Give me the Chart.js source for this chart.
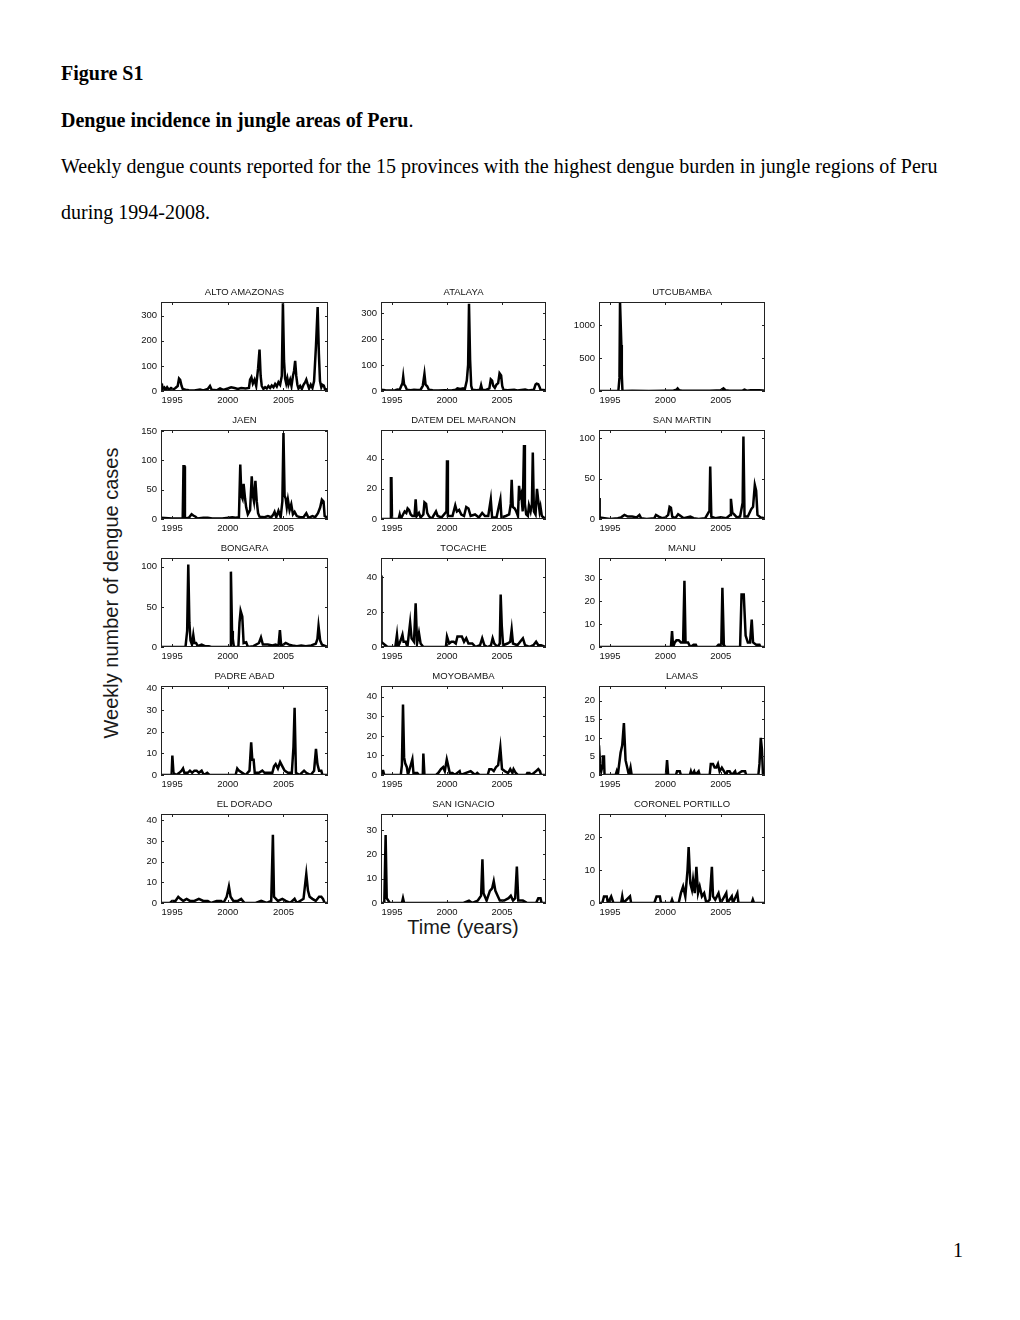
<!DOCTYPE html>
<html lang="en">
<head>
<meta charset="UTF-8">
<title>Figure S1</title>
<script src="https://cdn.jsdelivr.net/npm/chart.js"></script>
<style>
  body { margin: 0; width: 1020px; height: 1320px; background: #fff; position: relative;
         font-family: "Liberation Serif", "Times New Roman", serif; color: #000; }
  .line { position: absolute; left: 61px; font-size: 20px; line-height: 20px; white-space: nowrap; }
  .panel { position: absolute; }
  .ptitle { position: absolute; font-family: "Liberation Sans", Arial, sans-serif; font-size: 9.5px;
            line-height: 10px; white-space: nowrap; color: #111; transform: translate(-50%, -50%); }
  #ylab, #xlab { position: absolute; font-family: "Liberation Sans", Arial, sans-serif;
                 font-size: 20px; line-height: 20px; white-space: nowrap; color: #1a1a1a; }
  #ylab { left: 111px; top: 593px; transform: translate(-50%, -50%) rotate(-90deg); }
  #xlab { left: 463px; top: 927px; transform: translate(-50%, -50%); }
</style>
</head>
<body>
<div class="line" style="top:63px"><b>Figure S1</b></div>
<div class="line" style="top:110px"><b>Dengue incidence in jungle areas of Peru</b>.</div>
<div class="line" style="top:156px">Weekly dengue counts reported for the 15 provinces with the highest dengue burden in jungle regions of Peru</div>
<div class="line" style="top:202px">during 1994-2008.</div>
<div class="line" style="top:1240px;left:953px">1</div>
<div id="ylab">Weekly number of dengue cases</div>
<div id="xlab">Time (years)</div>

<script>
// weekly case counts, as [year, cases]
const altoAmazonas = [[1994.0,30],[1994.08,28],[1994.15,8],[1994.3,14],[1994.4,4],[1994.55,15],[1994.7,5],[1994.9,12],[1995.1,6],[1995.3,12],[1995.5,20],[1995.62,50],[1995.72,45],[1995.85,20],[1995.95,8],[1996.2,5],[1996.5,3],[1997.0,2],[1997.5,6],[1997.8,2],[1998.2,8],[1998.4,20],[1998.55,5],[1999.0,3],[1999.3,10],[1999.6,4],[2000.0,10],[2000.3,15],[2000.6,12],[2000.9,8],[2001.2,12],[2001.6,10],[2001.9,12],[2002.0,45],[2002.12,55],[2002.25,30],[2002.4,45],[2002.55,20],[2002.72,90],[2002.85,165],[2002.95,60],[2003.05,20],[2003.2,8],[2003.35,15],[2003.5,10],[2003.65,20],[2003.8,12],[2003.95,22],[2004.1,15],[2004.25,28],[2004.4,18],[2004.55,35],[2004.7,25],[2004.85,60],[2004.95,350],[2005.05,120],[2005.15,50],[2005.25,30],[2005.35,50],[2005.45,25],[2005.6,45],[2005.72,20],[2005.85,60],[2005.95,80],[2006.05,120],[2006.15,60],[2006.25,25],[2006.35,10],[2006.5,20],[2006.65,8],[2006.8,25],[2006.95,35],[2007.05,45],[2007.15,30],[2007.3,10],[2007.45,25],[2007.6,12],[2007.75,40],[2007.92,180],[2008.07,335],[2008.18,150],[2008.28,40],[2008.4,15],[2008.5,25],[2008.62,22],[2008.72,8],[2008.95,5]];
const atalaya = [[1994.0,5],[1994.4,3],[1994.9,2],[1995.3,3],[1995.5,6],[1995.7,5],[1995.85,20],[1995.95,30],[1996.02,55],[1996.1,25],[1996.2,20],[1996.35,5],[1996.7,3],[1997.0,5],[1997.3,4],[1997.6,5],[1997.8,20],[1997.95,65],[1998.05,25],[1998.2,18],[1998.35,5],[1998.7,3],[1999.2,2],[1999.8,3],[2000.4,2],[2000.8,5],[2000.95,10],[2001.2,8],[2001.45,10],[2001.6,3],[2001.8,40],[2001.92,100],[2002.0,335],[2002.1,120],[2002.2,20],[2002.3,5],[2002.7,3],[2003.0,5],[2003.1,22],[2003.2,5],[2003.5,3],[2003.85,10],[2003.98,45],[2004.1,40],[2004.2,20],[2004.35,12],[2004.5,25],[2004.65,30],[2004.78,68],[2004.92,60],[2005.02,20],[2005.12,5],[2005.5,3],[2006.1,5],[2006.4,2],[2007.1,6],[2007.4,2],[2007.9,5],[2008.05,25],[2008.15,28],[2008.3,26],[2008.42,15],[2008.5,5],[2008.97,3]];
const utcubamba = [[1994.0,0],[1995.75,0],[1995.85,200],[1995.9,1357],[1995.98,1357],[1996.02,700],[1996.06,250],[1996.12,0],[1997.0,2],[1998.5,0],[2000.0,3],[2000.7,5],[2001.0,20],[2001.1,40],[2001.25,10],[2001.5,5],[2002.5,3],[2003.3,5],[2004.0,3],[2004.6,8],[2005.0,10],[2005.25,40],[2005.45,10],[2005.8,5],[2006.5,3],[2007.0,8],[2007.15,20],[2007.35,5],[2007.7,10],[2008.1,12],[2008.5,10],[2008.8,8],[2008.97,3]];
const jaen = [[1994.0,2],[1995.0,1],[1995.95,1],[1996.02,90],[1996.1,90],[1996.15,1],[1996.5,2],[1996.75,8],[1996.9,6],[1997.1,4],[1997.25,1],[1997.8,2],[1998.2,2],[1998.6,1],[1999.5,1],[2000.4,3],[2000.7,2],[2001.0,3],[2001.12,93],[2001.22,40],[2001.32,35],[2001.42,60],[2001.55,35],[2001.65,20],[2001.8,8],[2002.0,15],[2002.15,73],[2002.25,40],[2002.35,30],[2002.48,65],[2002.6,30],[2002.72,10],[2002.85,4],[2003.3,3],[2003.6,5],[2003.9,3],[2004.1,8],[2004.2,12],[2004.35,3],[2004.55,14],[2004.75,3],[2004.9,30],[2005.0,147],[2005.1,40],[2005.2,35],[2005.3,20],[2005.4,33],[2005.55,15],[2005.7,25],[2005.85,8],[2006.0,12],[2006.2,5],[2006.5,3],[2006.8,3],[2007.05,10],[2007.25,2],[2007.6,5],[2007.85,3],[2008.1,10],[2008.3,20],[2008.45,33],[2008.6,30],[2008.7,5],[2008.97,2]];
const datemDelMaranon = [[1994.0,0],[1994.85,0],[1994.9,27],[1994.95,27],[1995.0,0],[1995.6,0],[1995.7,3],[1995.8,0],[1996.0,3],[1996.15,5],[1996.3,4],[1996.42,7],[1996.55,6],[1996.7,3],[1996.85,2],[1997.05,2],[1997.15,13],[1997.25,2],[1997.45,4],[1997.6,1],[1997.85,3],[1997.95,11],[1998.1,10],[1998.2,4],[1998.35,2],[1998.6,0],[1999.0,5],[1999.15,2],[1999.5,1],[1999.95,5],[2000.0,39],[2000.08,2],[2000.5,2],[2000.75,9],[2000.9,5],[2001.1,6],[2001.3,3],[2001.55,2],[2001.75,8],[2001.95,7],[2002.15,2],[2002.55,3],[2002.9,1],[2003.2,4],[2003.45,2],[2003.75,2],[2003.98,13],[2004.1,1],[2004.5,1],[2004.85,13],[2004.95,1],[2005.35,2],[2005.65,3],[2005.8,10],[2005.88,26],[2005.98,8],[2006.15,7],[2006.3,5],[2006.45,2],[2006.55,22],[2006.65,15],[2006.75,17],[2006.88,5],[2007.0,49],[2007.08,10],[2007.2,3],[2007.35,2],[2007.45,9],[2007.6,5],[2007.72,10],[2007.8,44],[2007.9,5],[2008.05,3],[2008.18,20],[2008.3,12],[2008.42,5],[2008.5,8],[2008.62,2],[2008.97,0]];
const sanMartin = [[1994.0,26],[1994.06,2],[1994.5,1],[1995.0,0],[1995.7,1],[1996.0,2],[1996.3,5],[1996.6,3],[1997.0,3],[1997.4,2],[1997.65,5],[1997.8,1],[1998.3,0],[1999.0,1],[1999.15,5],[1999.4,3],[1999.7,1],[2000.0,2],[2000.25,5],[2000.38,15],[2000.5,14],[2000.62,3],[2000.9,1],[2001.15,6],[2001.35,4],[2001.65,1],[2002.25,3],[2002.55,1],[2003.0,0],[2003.6,1],[2003.98,10],[2004.05,65],[2004.15,3],[2004.5,1],[2005.0,2],[2005.5,1],[2005.85,5],[2005.92,25],[2006.05,8],[2006.25,5],[2006.45,2],[2006.75,3],[2006.98,20],[2007.05,102],[2007.15,3],[2007.45,3],[2007.75,12],[2007.92,15],[2008.08,42],[2008.2,35],[2008.32,5],[2008.6,2],[2008.97,1]];
const bongara = [[1994.0,0],[1996.2,0],[1996.35,20],[1996.45,103],[1996.55,30],[1996.65,8],[1996.78,3],[1996.9,15],[1997.0,5],[1997.15,5],[1997.3,1],[1997.65,3],[1997.95,1],[1998.3,1],[1998.5,0],[2000.2,0],[2000.28,94],[2000.38,20],[2000.45,10],[2000.55,0],[2000.95,0],[2001.05,30],[2001.15,45],[2001.3,38],[2001.42,5],[2001.65,6],[2001.8,0],[2002.3,1],[2002.8,5],[2002.98,12],[2003.15,3],[2003.6,3],[2004.0,2],[2004.3,3],[2004.55,1],[2004.68,21],[2004.8,1],[2005.2,5],[2005.5,3],[2005.8,2],[2006.2,1],[2006.6,2],[2007.0,1],[2007.5,2],[2007.9,4],[2008.05,10],[2008.15,26],[2008.3,8],[2008.45,3],[2008.97,0]];
const tocache = [[1994.0,41],[1994.05,3],[1994.2,2],[1994.4,1],[1994.6,0],[1995.3,0],[1995.45,7],[1995.55,0],[1995.8,4],[1995.95,7],[1996.05,3],[1996.25,3],[1996.4,0],[1996.65,14],[1996.78,5],[1997.0,3],[1997.15,25],[1997.28,2],[1997.45,8],[1997.6,2],[1997.85,0],[1999.9,0],[2000.0,6],[2000.2,2],[2000.4,3],[2000.6,3],[2000.8,2],[2000.95,6],[2001.15,6],[2001.35,6],[2001.55,3],[2001.75,5],[2001.95,2],[2002.3,2],[2002.6,0],[2003.0,1],[2003.2,5],[2003.4,1],[2003.7,0],[2004.0,1],[2004.15,5],[2004.3,2],[2004.6,0],[2004.8,2],[2004.88,30],[2004.98,12],[2005.1,1],[2005.5,2],[2005.75,3],[2005.88,10],[2006.0,2],[2006.4,1],[2006.65,3],[2006.9,5],[2007.1,1],[2007.5,0],[2007.85,1],[2008.1,3],[2008.3,1],[2008.55,1],[2008.97,0]];
const manu = [[1994.0,0],[2000.5,0],[2000.6,7],[2000.7,0],[2000.85,2],[2001.0,3],[2001.2,3],[2001.4,2],[2001.6,2],[2001.72,29],[2001.82,2],[2002.05,2],[2002.25,0],[2002.55,1],[2002.75,1],[2002.85,0],[2004.6,0],[2004.8,1],[2005.05,1],[2005.15,26],[2005.28,1],[2005.4,0],[2006.75,0],[2006.88,23],[2007.08,23],[2007.25,5],[2007.45,2],[2007.65,2],[2007.8,12],[2007.92,2],[2008.2,1],[2008.5,1],[2008.6,0],[2008.97,0]];
const padreAbad = [[1994.0,0],[1994.95,0],[1995.02,9],[1995.12,1],[1995.35,0],[1995.65,1],[1995.85,2],[1995.98,3],[1996.1,1],[1996.4,1],[1996.6,2],[1996.8,1],[1997.0,2],[1997.2,2],[1997.4,1],[1997.65,2],[1997.85,0],[1998.15,1],[1998.35,0],[2000.7,0],[2000.85,3],[2001.0,2],[2001.3,1],[2001.6,0],[2001.95,2],[2002.1,15],[2002.2,7],[2002.32,7],[2002.42,1],[2002.8,1],[2003.1,2],[2003.3,1],[2003.7,1],[2004.0,1],[2004.15,4],[2004.3,5],[2004.5,3],[2004.7,6],[2004.9,4],[2005.1,2],[2005.4,1],[2005.75,1],[2005.9,13],[2006.0,31],[2006.12,1],[2006.45,0],[2006.85,2],[2007.05,1],[2007.45,0],[2007.75,2],[2007.92,12],[2008.05,5],[2008.2,2],[2008.4,2],[2008.5,0],[2008.97,0]];
const moyobamba = [[1994.0,0],[1994.1,2],[1994.2,2],[1994.3,0],[1995.8,0],[1995.9,5],[1996.0,36],[1996.1,9],[1996.2,6],[1996.35,4],[1996.45,0],[1996.7,5],[1996.85,8],[1996.95,1],[1997.3,1],[1997.45,0],[1997.8,0],[1997.85,11],[1997.95,0],[1999.0,0],[1999.2,1],[1999.45,3],[1999.65,4],[1999.8,2],[1999.98,8],[2000.1,5],[2000.25,1],[2000.5,1],[2000.7,0],[2001.15,2],[2001.25,0],[2002.15,2],[2002.35,1],[2002.55,0],[2002.75,1],[2002.95,0],[2003.7,0],[2003.85,3],[2004.05,3],[2004.25,2],[2004.45,4],[2004.65,5],[2004.85,14],[2005.0,3],[2005.25,2],[2005.55,1],[2005.75,3],[2005.95,1],[2006.05,3],[2006.25,1],[2006.45,0],[2007.2,0],[2007.3,1],[2007.5,1],[2007.6,0],[2007.9,1],[2008.1,2],[2008.3,3],[2008.45,2],[2008.55,0],[2008.97,0]];
const lamas = [[1994.0,8],[1994.1,3],[1994.2,1],[1994.28,2],[1994.35,5],[1994.45,5],[1994.5,0],[1995.5,0],[1995.6,1],[1995.7,0],[1995.95,6],[1996.1,8],[1996.25,14],[1996.4,4],[1996.55,2],[1996.7,0],[1996.85,2],[1996.95,0],[2000.05,0],[2000.15,4],[2000.25,0],[2000.95,0],[2001.05,1],[2001.3,1],[2001.4,0],[2002.2,0],[2002.3,1],[2002.4,0],[2002.6,1],[2002.7,0],[2003.0,1],[2003.1,0],[2004.0,0],[2004.1,3],[2004.3,3],[2004.45,2],[2004.6,2],[2004.75,3],[2004.9,1],[2005.1,2],[2005.3,1],[2005.5,0],[2005.6,1],[2005.8,1],[2006.0,0],[2006.3,1],[2006.4,0],[2006.9,1],[2007.2,1],[2007.3,0],[2008.4,0],[2008.5,3],[2008.62,10],[2008.72,7],[2008.82,0],[2008.97,0]];
const elDorado = [[1994.0,0],[1994.8,0],[1995.0,1],[1995.3,1],[1995.55,3],[1995.75,2],[1996.0,1],[1996.3,2],[1996.6,1],[1997.0,1],[1997.4,2],[1997.8,1],[1998.2,1],[1998.5,0],[1999.0,1],[1999.4,1],[1999.6,0],[1999.9,3],[2000.1,8],[2000.25,3],[2000.5,1],[2000.9,1],[2001.2,2],[2001.5,0],[2002.5,0],[2003.0,1],[2003.5,0],[2003.9,1],[2004.05,33],[2004.15,3],[2004.5,1],[2004.9,2],[2005.2,1],[2005.6,0],[2006.0,2],[2006.2,0],[2006.8,2],[2007.05,14],[2007.2,6],[2007.35,3],[2007.6,2],[2007.9,1],[2008.2,3],[2008.4,3],[2008.55,2],[2008.7,0],[2008.97,0]];
const sanIgnacio = [[1994.0,0],[1994.3,0],[1994.42,28],[1994.52,2],[1994.8,0],[1995.9,0],[1996.0,2],[1996.1,0],[2001.5,0],[2002.0,1],[2002.3,0],[2002.8,1],[2003.1,3],[2003.22,18],[2003.32,4],[2003.6,1],[2003.9,5],[2004.1,6],[2004.25,9],[2004.4,5],[2004.6,3],[2004.8,1],[2005.2,1],[2005.6,2],[2005.8,3],[2006.0,1],[2006.2,2],[2006.35,15],[2006.48,1],[2006.9,1],[2007.3,0],[2008.1,0],[2008.3,2],[2008.5,2],[2008.6,0],[2008.97,0]];
const coronelPortillo = [[1994.0,0],[1994.3,0],[1994.45,2],[1994.7,2],[1994.8,0],[1995.1,2],[1995.3,0],[1996.0,0],[1996.1,2],[1996.2,0],[1996.8,2],[1996.9,0],[1999.0,0],[1999.2,2],[1999.5,2],[1999.6,0],[2000.5,0],[2000.6,1],[2000.7,0],[2001.2,0],[2001.4,3],[2001.6,5],[2001.8,2],[2002.0,10],[2002.1,17],[2002.25,6],[2002.4,4],[2002.5,7],[2002.65,3],[2002.8,11],[2002.95,3],[2003.1,5],[2003.3,2],[2003.5,3],[2003.7,0],[2004.0,1],[2004.2,11],[2004.3,2],[2004.5,1],[2004.8,3],[2005.0,0],[2005.5,3],[2005.6,0],[2006.0,2],[2006.1,0],[2006.5,3],[2006.6,0],[2007.0,0],[2007.8,0],[2007.9,1],[2008.0,0],[2008.97,0]];

const provinces = ['ALTO AMAZONAS', 'ATALAYA', 'UTCUBAMBA', 'JAEN', 'DATEM DEL MARANON', 'SAN MARTIN',
                   'BONGARA', 'TOCACHE', 'MANU', 'PADRE ABAD', 'MOYOBAMBA', 'LAMAS',
                   'EL DORADO', 'SAN IGNACIO', 'CORONEL PORTILLO'];
const series = [altoAmazonas, atalaya, utcubamba, jaen, datemDelMaranon, sanMartin,
                bongara, tocache, manu, padreAbad, moyobamba, lamas,
                elDorado, sanIgnacio, coronelPortillo];
const yMax = [355, 342, 1357, 152, 59, 110, 111, 51, 39, 41, 45.5, 24, 43, 36.6, 27];
const yTicks = [[0,100,200,300], [0,100,200,300], [0,500,1000], [0,50,100,150], [0,20,40], [0,50,100],
                [0,50,100], [0,20,40], [0,10,20,30], [0,10,20,30,40], [0,10,20,30,40], [0,5,10,15,20],
                [0,10,20,30,40], [0,10,20,30], [0,10,20]];
const xTicks = [1995, 2000, 2005];
const xMin = 1994, xMax = 2009;

// panel layout (pixel frame of each plot box)
const colLeft = [161, 381, 599];
const colWidth = [167, 165, 166];
const rowTop = [302, 430, 558, 686, 814];
const plotH = 89;
// top padding must exceed half a tick label, or chart.js pushes the plot down
const AXIS_W = 40, AXIS_H = 15, PAD_T = 14, PAD_R = 6;

const tickFont = { family: '"Liberation Sans", Arial, sans-serif', size: 9.5 };

// box round the plot with inward ticks, like the original figure
const framePlugin = {
  id: 'frame',
  afterDatasetsDraw(chart) {
    const { ctx, chartArea: a, scales: { x, y } } = chart;
    ctx.save();
    ctx.strokeStyle = '#222';
    ctx.lineWidth = 1;
    ctx.strokeRect(a.left + 0.5, a.top + 0.5, a.right - a.left - 1, a.bottom - a.top - 1);
    ctx.beginPath();
    x.ticks.forEach(t => {
      const px = Math.round(x.getPixelForValue(t.value)) + 0.5;
      ctx.moveTo(px, a.bottom); ctx.lineTo(px, a.bottom - 3);
      ctx.moveTo(px, a.top); ctx.lineTo(px, a.top + 3);
    });
    y.ticks.forEach(t => {
      const py = Math.round(y.getPixelForValue(t.value)) + 0.5;
      ctx.moveTo(a.left, py); ctx.lineTo(a.left + 3, py);
      ctx.moveTo(a.right, py); ctx.lineTo(a.right - 3, py);
    });
    ctx.stroke();
    ctx.restore();
  }
};

provinces.forEach((name, i) => {
  const col = i % 3, row = Math.floor(i / 3);
  const w = colWidth[col] + AXIS_W + PAD_R;
  const h = PAD_T + plotH + AXIS_H;
  const wrap = document.createElement('div');
  wrap.className = 'panel';
  const canvas = document.createElement('canvas');
  canvas.width = w; canvas.height = h;
  canvas.style.width = w + 'px'; canvas.style.height = h + 'px';
  wrap.appendChild(canvas);
  document.body.appendChild(wrap);

  const title = document.createElement('div');
  title.className = 'ptitle';
  title.textContent = name;
  title.style.left = (colLeft[col] + colWidth[col] / 2) + 'px';
  title.style.top = (rowTop[row] - 10) + 'px';
  document.body.appendChild(title);

  const chart = new Chart(canvas, {
    type: 'line',
    data: {
      datasets: [{
        data: series[i].map(([x, y]) => ({ x, y })),
        borderColor: '#000',
        borderWidth: 2.5,
        pointRadius: 0,
        tension: 0,
        fill: false
      }]
    },
    plugins: [framePlugin],
    options: {
      responsive: false,
      animation: false,
      layout: { padding: { top: PAD_T, right: PAD_R, bottom: 0, left: 0 } },
      plugins: {
        legend: { display: false },
        tooltip: { enabled: false },
        title: { display: false }
      },
      scales: {
        x: {
          type: 'linear', min: xMin, max: xMax,
          grid: { display: false, drawTicks: false },
          border: { display: false },
          ticks: { font: tickFont, color: '#111', padding: 4, maxRotation: 0,
                   callback: v => String(v) },
          afterBuildTicks: s => { s.ticks = xTicks.map(v => ({ value: v })); },
          afterFit: s => { s.height = AXIS_H; }
        },
        y: {
          min: 0, max: yMax[i],
          grid: { display: false, drawTicks: false },
          border: { display: false },
          ticks: { font: tickFont, color: '#111', padding: 4, callback: v => String(v) },
          afterBuildTicks: s => { s.ticks = yTicks[i].map(v => ({ value: v })); },
          afterFit: s => { s.width = AXIS_W; }
        }
      }
    }
  });

  const a = chart.chartArea;
  wrap.style.left = (colLeft[col] - a.left) + 'px';
  wrap.style.top = (rowTop[row] - a.top) + 'px';
});
</script>
</body>
</html>
